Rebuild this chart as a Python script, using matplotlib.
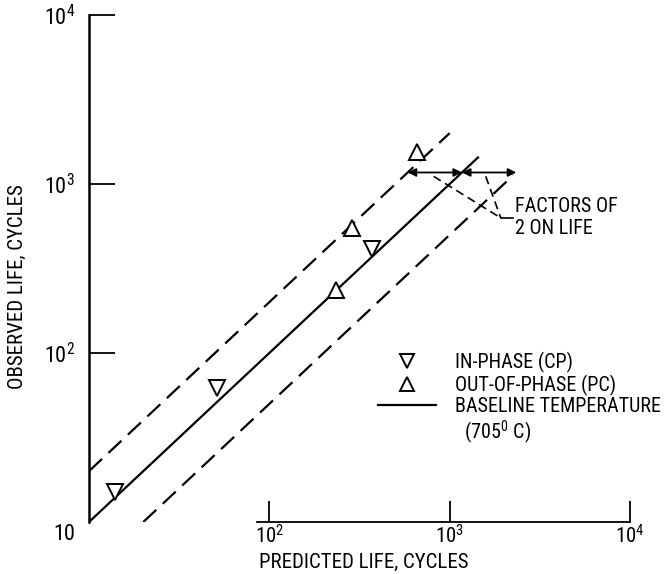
import matplotlib
matplotlib.use("Agg")
import matplotlib.pyplot as plt
import matplotlib.transforms as mtransforms
from matplotlib.lines import Line2D
from matplotlib import font_manager

# pick a condensed sans if there is one
names = {f.name for f in font_manager.fontManager.ttflist}
choices = ['Roboto Condensed', 'Archivo Narrow', 'PT Sans Narrow',
           'Liberation Sans Narrow', 'Open Sans Condensed', 'DejaVu Sans']
font = next(c for c in choices if c in names)
plt.rcParams['font.family'] = [font, 'DejaVu Sans']
plt.rcParams['mathtext.default'] = 'regular'

# data
in_phase_pred = [14, 51, 373]
in_phase_obs = [15, 62, 412]
out_phase_pred = [233, 289, 663]
out_phase_obs = [236, 550, 1545]

# baseline (y = x) and factor-of-2 bands
base_x = [10, 1450]
upper_x = [10, 1000]
lower_x = [20, 2250]
arrow_y = 1170

fig = plt.figure(figsize=(6.64, 5.74), dpi=100)
ax = fig.add_axes([89/664, 1 - 522/574, 541/664, 507/574])
ax.set_xscale('log')
ax.set_yscale('log')
ax.set_xlim(10, 1e4)
ax.set_ylim(10, 1e4)

lw = 1.6
dash = (0, (8, 4))
ax.plot(base_x, base_x, color='black', lw=lw, solid_capstyle='butt')
ax.plot(upper_x, [2 * v for v in upper_x], color='black', lw=lw, linestyle=dash)
ax.plot(lower_x, [v / 2 for v in lower_x], color='black', lw=lw, linestyle=dash)

ax.plot(in_phase_pred, in_phase_obs, linestyle='none', marker='v', ms=11.5,
        mfc='white', mec='black', mew=1.4, label='IN-PHASE (CP)')
ax.plot(out_phase_pred, out_phase_obs, linestyle='none', marker='^', ms=11.5,
        mfc='white', mec='black', mew=1.4, label='OUT-OF-PHASE (PC)')

# factor of 2 arrows
for x0, x1 in [(arrow_y / 2, arrow_y), (arrow_y, arrow_y * 2)]:
    ax.annotate('', xy=(x1, arrow_y), xytext=(x0, arrow_y),
                arrowprops=dict(arrowstyle='<|-|>', color='black', lw=1.3,
                                mutation_scale=12, shrinkA=0, shrinkB=0))

# leader lines to the note
ax.plot([815, 1920], [1110, 630], color='black', lw=1.2, linestyle=(0, (5, 3)))
ax.plot([1585, 1920], [1110, 630], color='black', lw=1.2, linestyle=(0, (5, 3)))
ax.plot([1920, 2250], [630, 630], color='black', lw=1.2)
ax.text(2300, 630, 'FACTORS OF\n2 ON LIFE', fontsize=14.5, va='center', ha='left',
        linespacing=1.2)

# spines and ticks
for s in ['top', 'right']:
    ax.spines[s].set_visible(False)
ax.spines['left'].set_linewidth(1.8)
ax.spines['bottom'].set_linewidth(1.3)
ax.spines['bottom'].set_bounds(85, 1e4)

ax.set_yticks([10, 100, 1000, 10000])
ax.set_yticklabels(['10', '10$^2$', '10$^3$', '10$^4$'])
ax.set_xticks([100, 1000, 10000])
ax.set_xticklabels(['10$^2$', '10$^3$', '10$^4$'])
ax.minorticks_off()
ax.tick_params(axis='y', direction='in', length=19, width=1.3, labelsize=16, pad=10)
ax.tick_params(axis='x', direction='in', length=15, width=1.3, labelsize=15, pad=2)
ax.yaxis.get_major_ticks()[0].tick1line.set_visible(False)
lab10 = ax.get_yticklabels()[0]
lab10.set_transform(lab10.get_transform() + mtransforms.ScaledTranslation(0, -10/100, fig.dpi_scale_trans))

fig.text(364/664, 1 - 562/574, 'PREDICTED LIFE, CYCLES', fontsize=15, ha='center', va='center')
fig.text(17/664, 1 - 287/574, 'OBSERVED LIFE, CYCLES', fontsize=15, ha='center', va='center',
         rotation=90)

handles, labels = ax.get_legend_handles_labels()
handles.append(Line2D([], [], color='black', lw=lw))
labels.append('BASELINE TEMPERATURE')
handles.append(Line2D([], [], color='none'))
labels.append('  (705$^0$ C)')
ax.legend(handles, labels, loc='upper left', bbox_to_anchor=(378/664, 1 - 352/574),
          bbox_transform=fig.transFigure, frameon=False, fontsize=14.5,
          handlelength=2.9, handletextpad=0.9, labelspacing=0.08, borderpad=0,
          borderaxespad=0, markerscale=0.85)

fig.savefig('out.png', dpi=100)
